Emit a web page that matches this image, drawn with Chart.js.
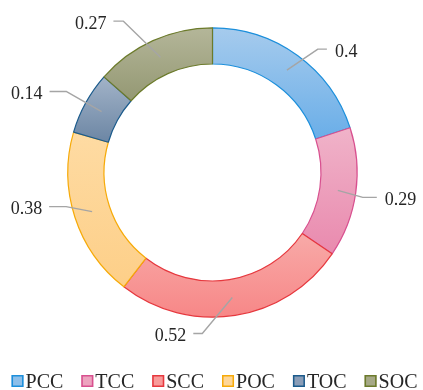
<!DOCTYPE html>
<html>
<head>
<meta charset="utf-8">
<script src="https://cdn.jsdelivr.net/npm/chart.js@4.4.0/dist/chart.umd.min.js"></script>
<style>
  html, body { margin: 0; padding: 0; background: #ffffff; }
  #wrap { width: 423px; height: 390px; position: relative; }
</style>
</head>
<body>
<div id="wrap"><canvas id="chart" width="423" height="390"></canvas></div>
<script>
// Carbon fractions per pool
const categories = ['PCC', 'TCC', 'SCC', 'POC', 'TOC', 'SOC'];
const values = [0.4, 0.29, 0.52, 0.38, 0.14, 0.27];
const valueLabels = ['0.4', '0.29', '0.52', '0.38', '0.14', '0.27'];

// Slice styling: light-to-deep vertical gradient with a darker outline
const fillTop    = ['#a6cbed', '#f0b3c9', '#f8aaa8', '#fedba3', '#a2b3c8', '#b4b699'];
const fillBottom = ['#6aaee8', '#e98aae', '#f78787', '#fdcf88', '#6c86a4', '#949873'];
const borderColors = ['#1c8fdb', '#d8508f', '#e6383e', '#f6aa08', '#1b5b8c', '#6c7b2b'];
const legendFill = ['#8dbfea', '#eda3bf', '#f89b9a', '#fed697', '#8a9db7', '#a6a987'];

// Leader line routing: elbow offset from the slice midpoint, then a horizontal run
const leaderElbow = [[31, -21], [25, 7], [-30, 36], [-26, -5], [-35, -20], [-37, -36]];
const leaderRun = [9, 14, -9, -17, -17, -10];

const SERIF = '"Liberation Serif", "Times New Roman", serif';

function sliceGradient(ctx) {
  const chart = ctx.chart;
  const i = ctx.dataIndex;
  const area = chart.chartArea;
  const ctrl = chart.getDatasetMeta(0).controller;
  if (!area || !ctrl || !ctrl.outerRadius) return fillTop[i];
  const data = ctx.dataset.data;
  const total = data.reduce((a, b) => a + b, 0);
  let acc = 0;
  for (let k = 0; k < i; k++) acc += data[k];
  const a0 = -Math.PI / 2 + acc / total * Math.PI * 2;
  const a1 = a0 + data[i] / total * Math.PI * 2;
  const cy = (area.top + area.bottom) / 2;
  let minY = Infinity, maxY = -Infinity;
  for (let s = 0; s <= 60; s++) {
    const a = a0 + (a1 - a0) * s / 60;
    for (const r of [ctrl.innerRadius, ctrl.outerRadius]) {
      const y = cy + r * Math.sin(a);
      if (y < minY) minY = y;
      if (y > maxY) maxY = y;
    }
  }
  const g = chart.ctx.createLinearGradient(0, minY, 0, maxY);
  g.addColorStop(0, fillTop[i]);
  g.addColorStop(1, fillBottom[i]);
  return g;
}

// Value labels joined to their slices by bent grey leader lines
const leaderPlugin = {
  id: 'leaders',
  afterDatasetsDraw(chart) {
    const ctx = chart.ctx;
    const meta = chart.getDatasetMeta(0);
    ctx.save();
    meta.data.forEach((arc, i) => {
      const p = arc.getCenterPoint();
      const ex = p.x + leaderElbow[i][0];
      const ey = p.y + leaderElbow[i][1];
      const tx = ex + leaderRun[i];
      ctx.beginPath();
      ctx.moveTo(p.x, p.y);
      ctx.lineTo(ex, ey);
      ctx.lineTo(tx, ey);
      ctx.strokeStyle = '#a5a5a5';
      ctx.lineWidth = 1.4;
      ctx.lineJoin = 'round';
      ctx.stroke();
      const right = leaderRun[i] > 0;
      ctx.font = '18px ' + SERIF;
      ctx.fillStyle = '#262626';
      ctx.textBaseline = 'middle';
      ctx.textAlign = right ? 'left' : 'right';
      ctx.fillText(valueLabels[i], right ? tx + 8 : tx - 7, ey + 3);
    });
    ctx.restore();
  }
};

// Single-row legend along the bottom edge
const legendPlugin = {
  id: 'bottomLegend',
  afterDraw(chart) {
    const ctx = chart.ctx;
    const box = 12, gapText = 2, gapItem = 18;
    ctx.save();
    ctx.font = '20px ' + SERIF;
    const widths = categories.map(c => ctx.measureText(c).width);
    const total = widths.reduce((a, w) => a + box + gapText + w, 0) + gapItem * (categories.length - 1);
    let x = (chart.width - total) / 2 + 3;
    const boxTop = 375;
    const baseline = 387.5;
    categories.forEach((c, i) => {
      ctx.fillStyle = legendFill[i];
      ctx.fillRect(x, boxTop, box, box);
      ctx.strokeStyle = borderColors[i];
      ctx.lineWidth = 1.5;
      ctx.strokeRect(x + 0.75, boxTop + 0.75, box - 1.5, box - 1.5);
      ctx.fillStyle = '#262626';
      ctx.textAlign = 'left';
      ctx.textBaseline = 'alphabetic';
      ctx.fillText(c, x + box + gapText, baseline);
      x += box + gapText + widths[i] + gapItem;
    });
    ctx.restore();
  }
};

new Chart(document.getElementById('chart'), {
  type: 'doughnut',
  data: {
    labels: categories,
    datasets: [{
      data: values,
      backgroundColor: sliceGradient,
      borderColor: borderColors,
      borderWidth: 1.2,
      borderAlign: 'center'
    }]
  },
  options: {
    responsive: false,
    animation: false,
    events: [],
    cutout: '75%',
    rotation: 0,
    layout: { padding: { top: 27.25, bottom: 72.25, left: 2, right: 0 } },
    plugins: {
      legend: { display: false },
      tooltip: { enabled: false }
    }
  },
  plugins: [leaderPlugin, legendPlugin]
});
</script>
</body>
</html>
